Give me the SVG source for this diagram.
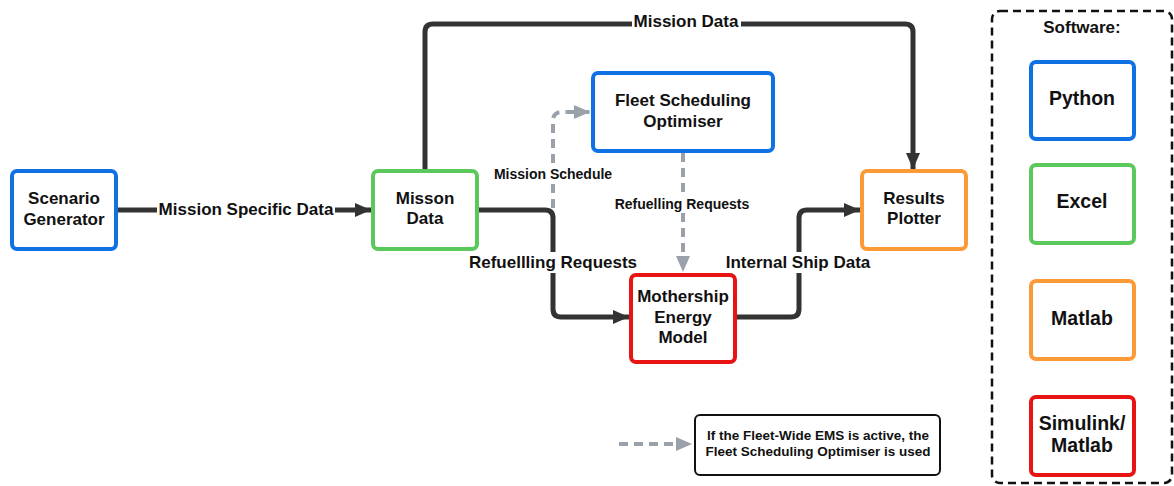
<svg xmlns="http://www.w3.org/2000/svg" width="1174" height="486" viewBox="0 0 1174 486">
  <style>
    .node { fill: #ffffff; stroke-width: 4; }
    .blue { stroke: #1071e5; }
    .green { stroke: #5ac85a; }
    .orange { stroke: #fd9a38; }
    .red { stroke: #e81313; }
    text { font-family: "Liberation Sans", Arial, sans-serif; font-weight: bold; fill: #111111; text-anchor: middle; }
    .t17 { font-size: 17px; }
    .t14 { font-size: 14px; }
    .t13 { font-size: 13.5px; }
    .t19 { font-size: 19.5px; }
    .wire { fill: none; stroke: #333333; stroke-width: 5; stroke-linejoin: round; }
    .dash { fill: none; stroke: #9ba1aa; stroke-width: 4; stroke-dasharray: 9 6; }
    .labelbg { fill: #ffffff; }
  </style>
  <defs>
    <marker id="arrowDark" markerUnits="userSpaceOnUse" markerWidth="18" markerHeight="16" refX="16" refY="8" orient="auto">
      <path d="M0,1 L16,8 L0,15 Z" fill="#333333"/>
    </marker>
    <marker id="arrowGrey" markerUnits="userSpaceOnUse" markerWidth="18" markerHeight="16" refX="16" refY="8" orient="auto">
      <path d="M0,1 L16,8 L0,15 Z" fill="#9ba1aa"/>
    </marker>
  </defs>

  <rect width="1174" height="486" fill="#ffffff"/>

  <!-- connectors -->
  <g id="connectors">
    <path class="wire" d="M117,210 L371,210" marker-end="url(#arrowDark)"/>
    <path class="wire" d="M425,171 L425,32 Q425,24 433,24 L905,24 Q913,24 913,32 L913,169" marker-end="url(#arrowDark)"/>
    <path class="wire" d="M477,210 L545,210 Q553,210 553,218 L553,309 Q553,317 561,317 L629,317" marker-end="url(#arrowDark)"/>
    <path class="wire" d="M735,317 L791,317 Q799,317 799,309 L799,218 Q799,210 807,210 L860,210" marker-end="url(#arrowDark)"/>
    <path class="dash" d="M553,208 L553,121 Q553,112 562,112 L590,112" marker-end="url(#arrowGrey)"/>
    <path class="dash" d="M683,153 L683,272" marker-end="url(#arrowGrey)"/>
    <path class="dash" d="M619,444 L692,444" marker-end="url(#arrowGrey)"/>

    <rect class="labelbg" x="157" y="199" width="178" height="21"/>
    <text class="t17" x="246" y="215">Mission Specific Data</text>
    <rect class="labelbg" x="632" y="12" width="109" height="20"/>
    <text class="t17" x="686" y="27">Mission Data</text>
    <rect class="labelbg" x="491" y="165" width="124" height="18"/>
    <text class="t14" x="553" y="179">Mission Schedule</text>
    <rect class="labelbg" x="612" y="195" width="141" height="18"/>
    <text class="t14" x="682" y="209">Refuelling Requests</text>
    <rect class="labelbg" x="467" y="252" width="172" height="21"/>
    <text class="t17" x="553" y="268">Refuellling Requests</text>
    <rect class="labelbg" x="723" y="252" width="150" height="21"/>
    <text class="t17" x="798" y="268">Internal Ship Data</text>
  </g>

  <g id="scenario-generator">
    <rect class="node blue" x="12" y="171" width="104" height="78" rx="5"/>
    <text class="t17" x="64" y="204">Scenario</text>
    <text class="t17" x="64" y="225">Generator</text>
  </g>

  <g id="mission-data">
    <rect class="node green" x="373" y="171" width="104" height="78" rx="5"/>
    <text class="t17" x="425" y="204">Misson</text>
    <text class="t17" x="425" y="224">Data</text>
  </g>

  <g id="fleet-scheduling-optimiser">
    <rect class="node blue" x="593" y="73" width="180" height="78" rx="5"/>
    <text class="t17" x="683" y="106">Fleet Scheduling</text>
    <text class="t17" x="683" y="127">Optimiser</text>
  </g>

  <g id="mothership-energy-model">
    <rect class="node red" x="631" y="275" width="104" height="87" rx="5"/>
    <text class="t17" x="683" y="302">Mothership</text>
    <text class="t17" x="683" y="323">Energy</text>
    <text class="t17" x="683" y="343">Model</text>
  </g>

  <g id="results-plotter">
    <rect class="node orange" x="862" y="171" width="104" height="78" rx="5"/>
    <text class="t17" x="914" y="204">Results</text>
    <text class="t17" x="914" y="224">Plotter</text>
  </g>

  <g id="note">
    <rect x="695" y="415" width="245" height="60" rx="5" fill="#ffffff" stroke="#111111" stroke-width="2"/>
    <text class="t13" x="818" y="440">If the Fleet-Wide EMS is active, the</text>
    <text class="t13" x="818" y="456">Fleet Scheduling Optimiser is used</text>
  </g>

  <g id="software-legend">
    <rect x="992" y="11" width="180" height="472" rx="8" fill="none" stroke="#111111" stroke-width="2.5" stroke-dasharray="8 5"/>
    <text class="t17" x="1082" y="33">Software:</text>
    <rect class="node blue" x="1031" y="62" width="103" height="77" rx="5" stroke-width="3"/>
    <text class="t19" x="1082" y="105">Python</text>
    <rect class="node green" x="1031" y="165" width="103" height="78" rx="5" stroke-width="3"/>
    <text class="t19" x="1082" y="208">Excel</text>
    <rect class="node orange" x="1031" y="281" width="103" height="78" rx="5" stroke-width="3"/>
    <text class="t19" x="1082" y="325">Matlab</text>
    <rect class="node red" x="1031" y="397" width="103" height="78" rx="5" stroke-width="3"/>
    <text class="t19" x="1082" y="430">Simulink/</text>
    <text class="t19" x="1082" y="452">Matlab</text>
  </g>
</svg>
